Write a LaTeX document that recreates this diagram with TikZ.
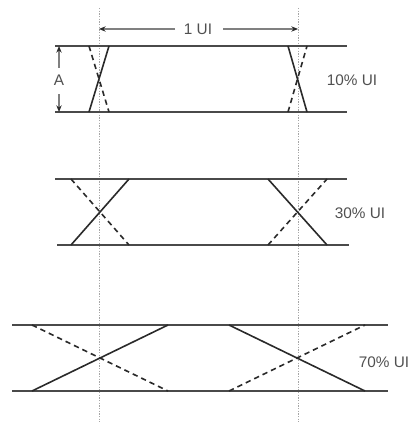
\documentclass[tikz,border=0pt]{standalone}
\usepackage{fontspec}
\setmainfont{Liberation Sans}
\usetikzlibrary{arrows.meta}
\definecolor{ink}{HTML}{2A2A2A}
\definecolor{rail}{HTML}{4A4A4A}
\definecolor{txt}{HTML}{505050}
\begin{document}
\begin{tikzpicture}[x=0.75pt,y=-0.75pt,
  railline/.style={draw=rail,line width=1.2pt},
  edge/.style={draw=ink,line width=1.2pt},
  dashedge/.style={draw=ink,line width=1.2pt,dash pattern=on 4pt off 3pt},
  guide/.style={draw=gray!70,line width=0.5pt,dash pattern=on 1pt off 1pt},
  dimline/.style={draw=gray,line width=0.8pt,-{Stealth[length=5pt,width=4pt,color=ink]}},
  lbl/.style={text=txt,font=\fontsize{11.5pt}{13pt}\selectfont,inner sep=1pt}]
\useasboundingbox (0,0) rectangle (417,428);
% guides
\coordinate (g1t) at (99,8); \coordinate (g1b) at (99,422);
\coordinate (g2t) at (298,8); \coordinate (g2b) at (298,422);
\draw[guide] (g1t) -- (g1b);
\draw[guide] (g2t) -- (g2b);
% 1 UI dimension
\node[lbl] (ui) at (198,29) {1 UI};
\coordinate (uil) at (99,29); \coordinate (uir) at (298,29);
\coordinate (uila) at (175,29); \coordinate (uira) at (223,29);
\draw[dimline] (uila) -- (uil);
\draw[dimline] (uira) -- (uir);
% panel 1
\coordinate (a1) at (55,46); \coordinate (b1) at (347,46);
\coordinate (c1) at (55,112); \coordinate (d1) at (347,112);
\draw[railline] (a1) -- (b1); \draw[railline] (c1) -- (d1);
\draw[edge] (89,112) -- (109,46);
\draw[dashedge] (89,46) -- (109,112);
\draw[edge] (288,46) -- (307,112);
\draw[dashedge] (288,112) -- (307,46);
\node[lbl] (A) at (59,80) {A};
\coordinate (At) at (59,46); \coordinate (Ab) at (59,112);
\coordinate (Ata) at (59,68); \coordinate (Aba) at (59,94);
\draw[dimline] (Ata) -- (At);
\draw[dimline] (Aba) -- (Ab);
\node[lbl] (p1) at (352,80) {10\% UI};
% panel 2
\coordinate (a2) at (55,179); \coordinate (b2) at (347,179);
\coordinate (c2) at (57,245); \coordinate (d2) at (349,245);
\draw[railline] (a2) -- (b2); \draw[railline] (c2) -- (d2);
\draw[edge] (71,245) -- (129,179);
\draw[dashedge] (71,179) -- (129,245);
\draw[edge] (268,179) -- (327,245);
\draw[dashedge] (268,245) -- (327,179);
\node[lbl] (p2) at (360,213) {30\% UI};
% panel 3
\coordinate (a3) at (12,325); \coordinate (b3) at (388,325);
\coordinate (c3) at (12,391); \coordinate (d3) at (388,391);
\draw[railline] (a3) -- (b3); \draw[railline] (c3) -- (d3);
\draw[edge] (32,391) -- (168,325);
\draw[dashedge] (32,325) -- (168,391);
\draw[edge] (229,325) -- (365,391);
\draw[dashedge] (229,391) -- (365,325);
\node[lbl] (p3) at (384,362) {70\% UI};
\end{tikzpicture}
\end{document}
